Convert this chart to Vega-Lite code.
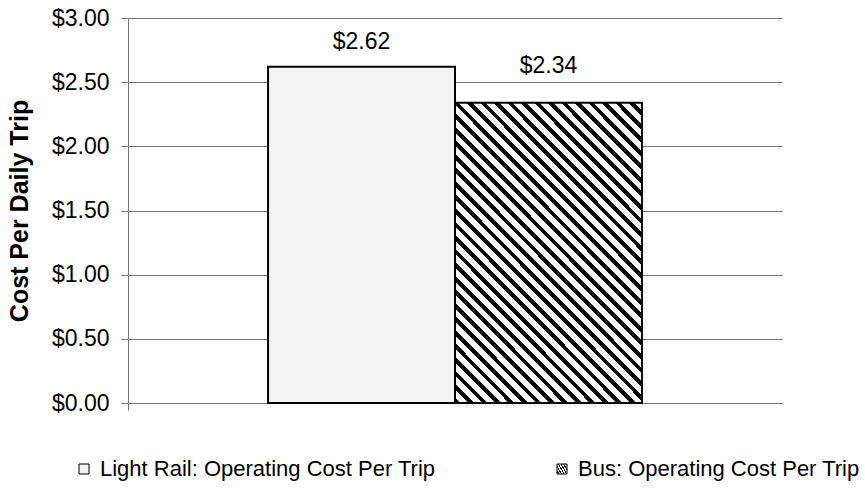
{
  "$schema": "https://vega.github.io/schema/vega-lite/v6.json",
  "width": 654,
  "height": 385,
  "autosize": {"type": "none"},
  "padding": {"left": 128, "top": 18, "right": 83, "bottom": 86},
  "background": "white",
  "config": {"view": {"stroke": null}, "font": "Liberation Sans"},
  "data": {
    "values": [
      {"category": "Cost", "series": "Light Rail: Operating Cost Per Trip", "value": 2.62},
      {"category": "Cost", "series": "Bus: Operating Cost Per Trip", "value": 2.34}
    ]
  },
  "encoding": {
    "x": {
      "field": "category", "type": "nominal",
      "scale": {"paddingInner": 0, "paddingOuter": 0},
      "axis": {"labels": false, "title": null, "ticks": true, "bandPosition": 0, "tickSize": 7, "tickColor": "#777", "domainColor": "#777", "grid": false}
    },
    "xOffset": {
      "field": "series", "type": "nominal",
      "sort": ["Light Rail: Operating Cost Per Trip", "Bus: Operating Cost Per Trip"],
      "scale": {"paddingInner": 0, "paddingOuter": 0.749}
    },
    "y": {
      "field": "value", "type": "quantitative",
      "scale": {"domain": [0, 3]},
      "axis": {
        "values": [0, 0.5, 1, 1.5, 2, 2.5, 3], "format": "$.2f",
        "grid": true, "gridColor": "#777", "domainColor": "#777", "tickColor": "#777", "tickSize": 7,
        "labelFontSize": 23, "labelColor": "black", "labelPadding": 12,
        "title": "Cost Per Daily Trip", "titleFontSize": 25, "titleFontWeight": "bold", "titleColor": "black", "titlePadding": 19
      }
    }
  },
  "layer": [
    {
      "mark": {"type": "bar", "stroke": "black", "strokeWidth": 2},
      "encoding": {
        "fill": {
          "field": "series", "type": "nominal",
          "scale": {
            "domain": ["Light Rail: Operating Cost Per Trip", "Bus: Operating Cost Per Trip"],
            "range": [
              "#f3f3f3",
              {"expr": "{gradient:'linear',x1:0,y1:1,x2:0.73,y2:-0.168,stops:[{offset:0,color:'#000'},{offset:0.012,color:'#000'},{offset:0.012,color:'#fff'},{offset:0.0278,color:'#fff'},{offset:0.0278,color:'#000'},{offset:0.0398,color:'#000'},{offset:0.0398,color:'#fff'},{offset:0.0556,color:'#fff'},{offset:0.0556,color:'#000'},{offset:0.0676,color:'#000'},{offset:0.0676,color:'#fff'},{offset:0.0833,color:'#fff'},{offset:0.0833,color:'#000'},{offset:0.0953,color:'#000'},{offset:0.0953,color:'#fff'},{offset:0.1111,color:'#fff'},{offset:0.1111,color:'#000'},{offset:0.1231,color:'#000'},{offset:0.1231,color:'#fff'},{offset:0.1389,color:'#fff'},{offset:0.1389,color:'#000'},{offset:0.1509,color:'#000'},{offset:0.1509,color:'#fff'},{offset:0.1667,color:'#fff'},{offset:0.1667,color:'#000'},{offset:0.1787,color:'#000'},{offset:0.1787,color:'#fff'},{offset:0.1944,color:'#fff'},{offset:0.1944,color:'#000'},{offset:0.2064,color:'#000'},{offset:0.2064,color:'#fff'},{offset:0.2222,color:'#fff'},{offset:0.2222,color:'#000'},{offset:0.2342,color:'#000'},{offset:0.2342,color:'#fff'},{offset:0.25,color:'#fff'},{offset:0.25,color:'#000'},{offset:0.262,color:'#000'},{offset:0.262,color:'#fff'},{offset:0.2778,color:'#fff'},{offset:0.2778,color:'#000'},{offset:0.2898,color:'#000'},{offset:0.2898,color:'#fff'},{offset:0.3056,color:'#fff'},{offset:0.3056,color:'#000'},{offset:0.3176,color:'#000'},{offset:0.3176,color:'#fff'},{offset:0.3333,color:'#fff'},{offset:0.3333,color:'#000'},{offset:0.3453,color:'#000'},{offset:0.3453,color:'#fff'},{offset:0.3611,color:'#fff'},{offset:0.3611,color:'#000'},{offset:0.3731,color:'#000'},{offset:0.3731,color:'#fff'},{offset:0.3889,color:'#fff'},{offset:0.3889,color:'#000'},{offset:0.4009,color:'#000'},{offset:0.4009,color:'#fff'},{offset:0.4167,color:'#fff'},{offset:0.4167,color:'#000'},{offset:0.4287,color:'#000'},{offset:0.4287,color:'#fff'},{offset:0.4444,color:'#fff'},{offset:0.4444,color:'#000'},{offset:0.4564,color:'#000'},{offset:0.4564,color:'#fff'},{offset:0.4722,color:'#fff'},{offset:0.4722,color:'#000'},{offset:0.4842,color:'#000'},{offset:0.4842,color:'#fff'},{offset:0.5,color:'#fff'},{offset:0.5,color:'#000'},{offset:0.512,color:'#000'},{offset:0.512,color:'#fff'},{offset:0.5278,color:'#fff'},{offset:0.5278,color:'#000'},{offset:0.5398,color:'#000'},{offset:0.5398,color:'#fff'},{offset:0.5556,color:'#fff'},{offset:0.5556,color:'#000'},{offset:0.5676,color:'#000'},{offset:0.5676,color:'#fff'},{offset:0.5833,color:'#fff'},{offset:0.5833,color:'#000'},{offset:0.5953,color:'#000'},{offset:0.5953,color:'#fff'},{offset:0.6111,color:'#fff'},{offset:0.6111,color:'#000'},{offset:0.6231,color:'#000'},{offset:0.6231,color:'#fff'},{offset:0.6389,color:'#fff'},{offset:0.6389,color:'#000'},{offset:0.6509,color:'#000'},{offset:0.6509,color:'#fff'},{offset:0.6667,color:'#fff'},{offset:0.6667,color:'#000'},{offset:0.6787,color:'#000'},{offset:0.6787,color:'#fff'},{offset:0.6944,color:'#fff'},{offset:0.6944,color:'#000'},{offset:0.7064,color:'#000'},{offset:0.7064,color:'#fff'},{offset:0.7222,color:'#fff'},{offset:0.7222,color:'#000'},{offset:0.7342,color:'#000'},{offset:0.7342,color:'#fff'},{offset:0.75,color:'#fff'},{offset:0.75,color:'#000'},{offset:0.762,color:'#000'},{offset:0.762,color:'#fff'},{offset:0.7778,color:'#fff'},{offset:0.7778,color:'#000'},{offset:0.7898,color:'#000'},{offset:0.7898,color:'#fff'},{offset:0.8056,color:'#fff'},{offset:0.8056,color:'#000'},{offset:0.8176,color:'#000'},{offset:0.8176,color:'#fff'},{offset:0.8333,color:'#fff'},{offset:0.8333,color:'#000'},{offset:0.8453,color:'#000'},{offset:0.8453,color:'#fff'},{offset:0.8611,color:'#fff'},{offset:0.8611,color:'#000'},{offset:0.8731,color:'#000'},{offset:0.8731,color:'#fff'},{offset:0.8889,color:'#fff'},{offset:0.8889,color:'#000'},{offset:0.9009,color:'#000'},{offset:0.9009,color:'#fff'},{offset:0.9167,color:'#fff'},{offset:0.9167,color:'#000'},{offset:0.9287,color:'#000'},{offset:0.9287,color:'#fff'},{offset:0.9444,color:'#fff'},{offset:0.9444,color:'#000'},{offset:0.9564,color:'#000'},{offset:0.9564,color:'#fff'},{offset:0.9722,color:'#fff'},{offset:0.9722,color:'#000'},{offset:0.9842,color:'#000'},{offset:0.9842,color:'#fff'},{offset:1,color:'#fff'}]}"}
            ]
          },
          "legend": {
            "orient": "none", "legendX": -55, "legendY": 440,
            "direction": "horizontal", "columns": 2, "title": null,
            "labelFontSize": 22, "labelColor": "black", "labelLimit": 600,
            "symbolType": "square", "symbolSize": 100, "symbolStrokeColor": "black", "symbolStrokeWidth": 1,
            "labelOffset": 5, "columnPadding": 115
          }
        }
      }
    },
    {
      "transform": [{"filter": "datum.value > 2.5"}],
      "mark": {"type": "text", "dy": -18, "fontSize": 23, "baseline": "alphabetic", "color": "black"},
      "encoding": {"text": {"field": "value", "type": "quantitative", "format": "$.2f"}}
    },
    {
      "transform": [{"filter": "datum.value <= 2.5"}],
      "mark": {"type": "text", "dy": -30, "fontSize": 23, "baseline": "alphabetic", "color": "black"},
      "encoding": {"text": {"field": "value", "type": "quantitative", "format": "$.2f"}}
    }
  ]
}
